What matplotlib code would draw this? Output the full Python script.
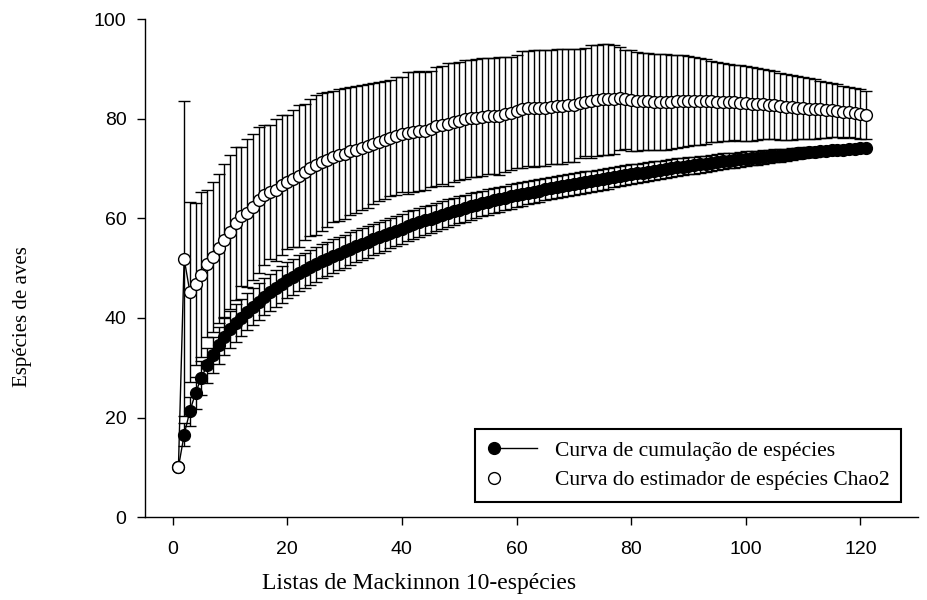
import matplotlib.pyplot as plt
from matplotlib.lines import Line2D
from matplotlib.legend_handler import HandlerLine2D
import numpy as np

# listas de Mackinnon (1..121)
listas = np.arange(1, 122)

# curva de cumulacao (media e desvio)
cumulacao = [
    10.0, 16.6, 21.3, 25.0, 28.0, 30.5, 32.6, 34.5, 36.2, 37.7,
    39.0, 40.1, 41.3, 42.3, 43.3, 44.3, 45.2, 46.0, 46.8, 47.6,
    48.3, 49.0, 49.6, 50.2, 50.8, 51.4, 51.9, 52.4, 52.9, 53.4,
    53.9, 54.4, 54.8, 55.3, 55.8, 56.2, 56.6, 57.1, 57.5, 57.9,
    58.4, 58.8, 59.2, 59.6, 59.9, 60.3, 60.7, 61.0, 61.4, 61.7,
    62.0, 62.4, 62.7, 63.0, 63.3, 63.6, 63.8, 64.1, 64.4, 64.7,
    64.9, 65.2, 65.4, 65.6, 65.9, 66.1, 66.3, 66.5, 66.7, 66.9,
    67.1, 67.3, 67.5, 67.7, 67.9, 68.1, 68.3, 68.5, 68.7, 68.9,
    69.1, 69.2, 69.4, 69.6, 69.8, 69.9, 70.1, 70.3, 70.4, 70.6,
    70.7, 70.9, 71.0, 71.2, 71.3, 71.5, 71.6, 71.7, 71.9, 72.0,
    72.1, 72.2, 72.4, 72.5, 72.6, 72.7, 72.8, 73.0, 73.1, 73.2,
    73.3, 73.4, 73.5, 73.6, 73.7, 73.8, 73.8, 73.9, 74.0, 74.1,
    74.2,
]
cumulacao_dp = [
    0.0, 2.4, 2.9, 3.2, 3.4, 3.5, 3.6, 3.7, 3.7, 3.8,
    3.8, 3.8, 3.8, 3.8, 3.8, 3.7, 3.7, 3.7, 3.7, 3.6,
    3.6, 3.6, 3.5, 3.5, 3.5, 3.4, 3.4, 3.4, 3.3, 3.3,
    3.3, 3.2, 3.2, 3.2, 3.1, 3.1, 3.1, 3.0, 3.0, 3.0,
    3.0, 2.9, 2.9, 2.9, 2.8, 2.8, 2.8, 2.8, 2.7, 2.7,
    2.7, 2.7, 2.6, 2.6, 2.6, 2.6, 2.5, 2.5, 2.5, 2.5,
    2.4, 2.4, 2.4, 2.4, 2.3, 2.3, 2.3, 2.3, 2.2, 2.2,
    2.2, 2.2, 2.1, 2.1, 2.1, 2.1, 2.0, 2.0, 2.0, 2.0,
    1.9, 1.9, 1.9, 1.9, 1.8, 1.8, 1.8, 1.8, 1.7, 1.7,
    1.7, 1.7, 1.6, 1.6, 1.6, 1.6, 1.5, 1.5, 1.5, 1.5,
    1.4, 1.4, 1.4, 1.3, 1.3, 1.3, 1.2, 1.2, 1.1, 1.1,
    1.0, 1.0, 0.9, 0.8, 0.8, 0.7, 0.6, 0.5, 0.4, 0.2,
    0.0,
]

# estimador Chao2 (media e limite superior da barra)
chao2 = [
    10.0, 51.9, 45.2, 46.8, 48.7, 50.9, 52.3, 54.0, 55.6, 57.3,
    59.0, 60.4, 61.1, 62.3, 63.7, 64.7, 65.3, 65.7, 66.7, 67.3,
    68.0, 68.5, 69.3, 70.2, 70.7, 71.3, 71.8, 72.4, 72.7, 73.0,
    73.5, 73.8, 74.2, 74.5, 75.0, 75.4, 75.7, 76.1, 76.5, 76.9,
    77.2, 77.4, 77.5, 77.6, 78.0, 78.5, 78.8, 78.9, 79.3, 79.6,
    79.9, 80.1, 80.2, 80.4, 80.6, 80.6, 80.6, 80.9, 81.1, 81.5,
    81.9, 82.1, 82.1, 82.2, 82.2, 82.4, 82.5, 82.5, 82.7, 82.7,
    83.1, 83.4, 83.5, 83.7, 83.9, 83.9, 83.9, 84.1, 83.9, 83.7,
    83.5, 83.5, 83.5, 83.4, 83.4, 83.4, 83.4, 83.5, 83.6, 83.6,
    83.6, 83.5, 83.5, 83.5, 83.4, 83.4, 83.3, 83.3, 83.2, 83.1,
    83.0, 83.0, 82.9, 82.8, 82.7, 82.5, 82.4, 82.3, 82.2, 82.1,
    82.0, 81.9, 81.9, 81.8, 81.7, 81.6, 81.4, 81.3, 81.1, 80.9,
    80.8,
]
chao2_sup = [
    10.0, 83.5, 63.3, 63.1, 65.3, 65.7, 67.4, 69.0, 71.0, 72.7,
    74.4, 74.4, 76.0, 77.0, 78.4, 78.7, 78.7, 80.0, 80.7, 80.7,
    81.7, 82.7, 82.9, 83.9, 84.7, 85.1, 85.4, 85.6, 85.9, 86.2,
    86.4, 86.6, 86.8, 87.0, 87.1, 87.4, 87.5, 87.7, 88.3, 88.4,
    89.4, 89.4, 89.5, 89.4, 89.6, 90.5, 90.6, 91.2, 91.3, 91.4,
    91.9, 91.9, 92.0, 92.3, 92.3, 92.3, 92.4, 92.4, 92.5, 92.8,
    93.6, 93.6, 93.9, 93.9, 93.9, 93.9, 94.1, 94.1, 94.1, 94.1,
    94.1, 94.3, 94.8, 94.9, 95.0, 95.0, 94.8, 94.4, 93.9, 93.8,
    93.4, 93.3, 93.3, 93.1, 93.1, 93.0, 92.9, 92.9, 92.8, 92.6,
    92.4, 92.2, 92.0, 91.7, 91.5, 91.3, 91.1, 90.9, 90.8, 90.6,
    90.4, 90.2, 89.9, 89.7, 89.5, 89.2, 89.0, 88.8, 88.5, 88.3,
    88.1, 87.9, 87.6, 87.4, 87.1, 86.9, 86.6, 86.3, 86.1, 85.9,
    85.6,
]

legendas = ['Curva de cumulação de espécies',
            'Curva do estimador de espécies Chao2']


class MarcaNaEsquerda(HandlerLine2D):
    # simbolo na ponta esquerda da linha, como no SigmaPlot
    def create_artists(self, *args, **kwargs):
        artistas = super().create_artists(*args, **kwargs)
        for a in artistas:
            a.set_markevery([0])
        return artistas


plt.rcParams['font.family'] = 'Liberation Sans'
serif = 'Liberation Serif'

chao2_dp = np.asarray(chao2_sup) - np.asarray(chao2)

fig = plt.figure(figsize=(9.27, 6), dpi=100)
ax = fig.add_axes([0.156, 0.138, 0.834, 0.830])

eb_chao = ax.errorbar(listas, chao2, yerr=chao2_dp, fmt='o-', color='black',
                      mfc='white', mec='black', ms=8.5, mew=1.0, lw=1.0,
                      elinewidth=1.0, capsize=4.5, capthick=1.0, zorder=2)
eb_chao.lines[0].set_zorder(4)

ax.errorbar(listas, cumulacao, yerr=cumulacao_dp, fmt='o-', color='black',
            mfc='black', mec='black', ms=8.5, lw=1.0,
            elinewidth=1.0, capsize=4.5, capthick=1.0, zorder=3)

ax.set_xlim(-4.9, 130)
ax.set_ylim(0, 100)
ax.set_xticks([0, 20, 40, 60, 80, 100, 120])
ax.set_yticks([0, 20, 40, 60, 80, 100])
ax.spines['top'].set_visible(False)
ax.spines['right'].set_visible(False)
ax.spines['left'].set_linewidth(1.0)
ax.spines['bottom'].set_linewidth(1.0)
ax.tick_params(direction='out', length=6, width=1.0, labelsize=14)
ax.tick_params(axis='x', pad=11)
ax.tick_params(axis='y', pad=7)

h1 = Line2D([], [], color='black', lw=1.0, marker='o', ms=8.5,
            mfc='black', mec='black')
h2 = Line2D([], [], color='black', linestyle='none', marker='o', ms=8.5,
            mfc='white', mec='black')
leg = ax.legend([h1, h2], legendas, loc='lower right',
                bbox_to_anchor=(0.979, 0.030), borderaxespad=0, numpoints=2,
                handlelength=2.6, handletextpad=0.55, fancybox=False,
                edgecolor='black', framealpha=1, borderpad=0.55,
                labelspacing=0.45, prop={'family': serif, 'size': 15.5},
                handler_map={Line2D: MarcaNaEsquerda()})
leg.get_frame().set_linewidth(1.5)

fig.text(0.4525, 0.028, 'Listas de Mackinnon 10-espécies', ha='center',
         va='center', family=serif, fontsize=17)
fig.text(0.024, 0.473, 'Espécies de aves', ha='center', va='center',
         rotation=90, family=serif, fontsize=15)

plt.savefig('out.png', dpi=100)
